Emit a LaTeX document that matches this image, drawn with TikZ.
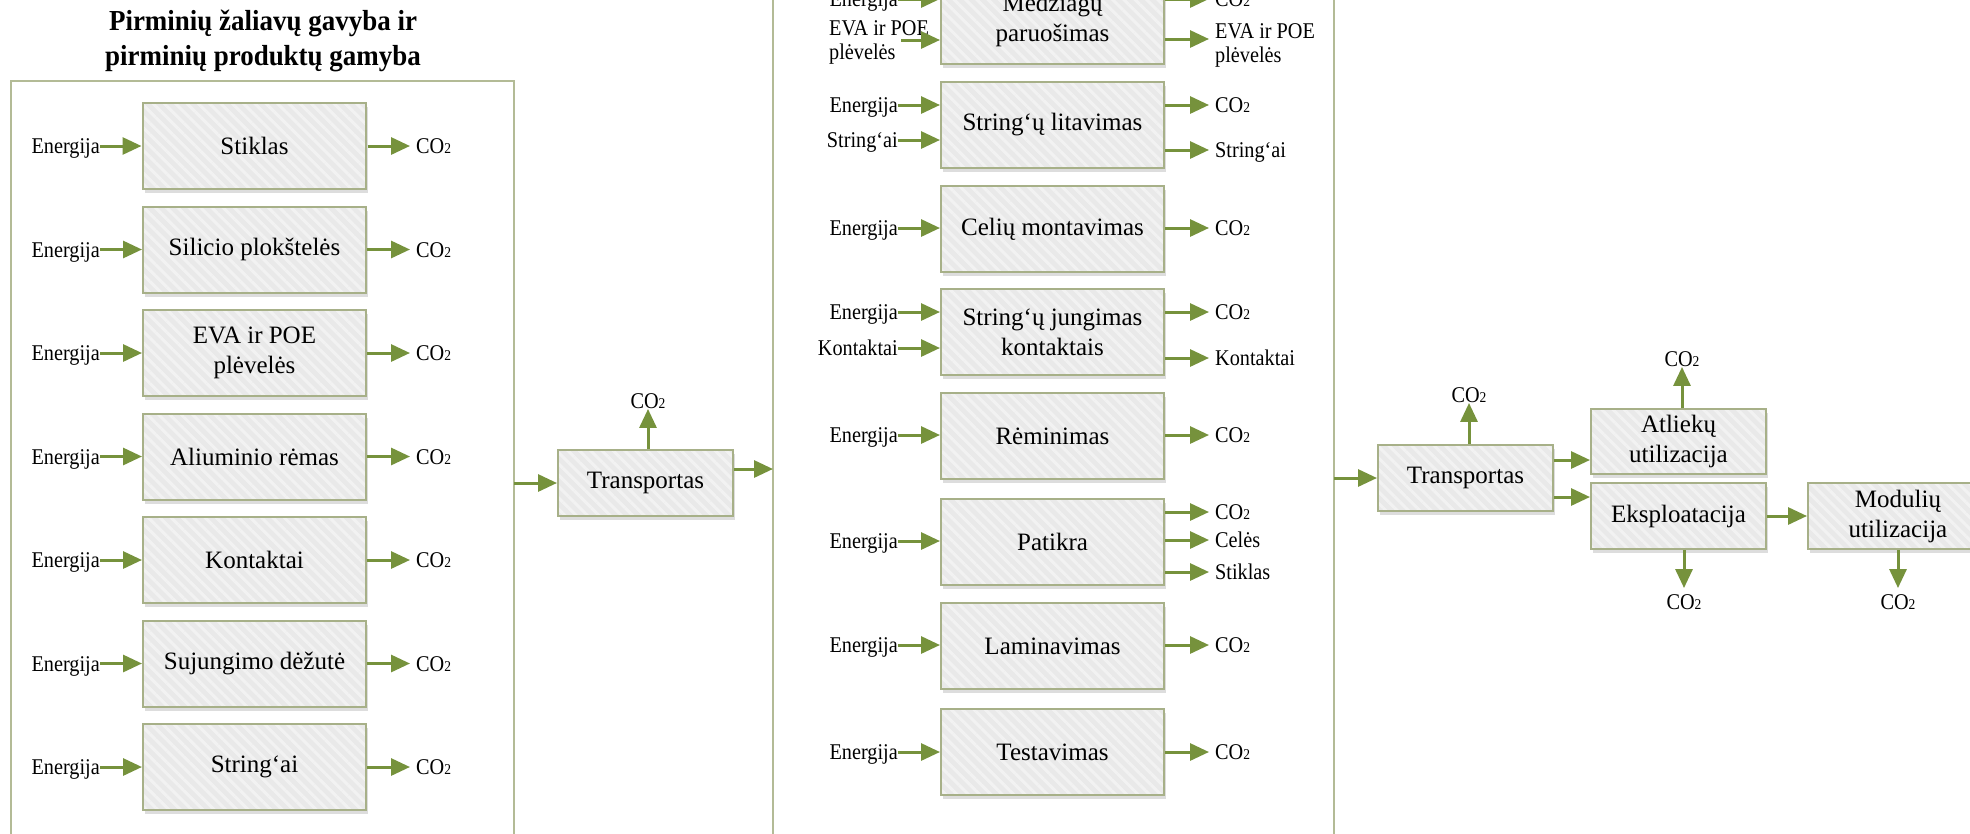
\documentclass[tikz,border=0pt]{standalone}
\usepackage{fontspec}
\setmainfont{Liberation Serif}
\newfontfamily\condfont{Liberation Serif}[FakeStretch=0.9]
\newfontfamily\titlefont{Liberation Serif Bold}[FakeStretch=0.93]
\usetikzlibrary{arrows.meta,shadows,patterns.meta}
\definecolor{arrowc}{HTML}{76923C}
\definecolor{framec}{HTML}{B3BB96}
\definecolor{boxborder}{HTML}{A7B088}
\definecolor{boxfill}{HTML}{E9E9E9}
\definecolor{stripec}{HTML}{F2F2F2}
\newcommand{\cotwo}{CO{\fontsize{15}{15}\selectfont 2}}
\newcommand{\myin}[4]{%
  \node[lblL] (#2) at (898,#3) {#4};
  \draw[arr] (#2.east) -- (#2.east -| #1.west);}
\newcommand{\myout}[4]{%
  \node[lblR] (#2) at (1209,#3) {#4};
  \draw[arr] (#2.west -| #1.east) -- (#2.west);}
\tikzset{
  procbox/.style={draw=boxborder, line width=2pt,
    drop shadow={shadow xshift=1.5pt, shadow yshift=-4pt, opacity=0.22, fill=black!60},
    preaction={fill=boxfill},
    pattern={Lines[angle=-45,distance=8pt,line width=3pt]}, pattern color=stripec,
    inner sep=0pt, align=center, font=\fontsize{25}{30}\selectfont, text=black},
  widebox/.style={procbox, minimum width=223pt, minimum height=86pt},
  smallbox/.style={procbox, minimum width=175pt, minimum height=66pt},
  arr/.style={draw=arrowc, line width=3pt, -{Triangle[length=19pt,width=17pt]}},
  lbl/.style={font=\condfont\fontsize{22.5}{24}\selectfont, inner sep=0pt, text=black, text height=15.5pt, text depth=0pt},
  lbltwo/.style={font=\condfont\fontsize{22.5}{24}\selectfont, inner sep=0pt, text=black, align=left, anchor=west},
  lblL/.style={lbl, anchor=east},
  lblR/.style={lbl, anchor=west, inner xsep=6pt},
  framebox/.style={draw=framec, line width=2pt},
}
\begin{document}
\begin{tikzpicture}[x=1pt,y=-1pt]
\useasboundingbox (0,0) rectangle (1970,833);
\fill[white] (0,0) rectangle (1970,833);
% frames
\draw[framebox] (11,900) -- (11,81) -- (514,81) -- (514,900);
\draw[framebox] (773,900) -- (773,-60) -- (1334,-60) -- (1334,900);
% title
\node[font=\titlefont\fontsize{29}{35}\selectfont, align=center, inner sep=0pt] (title) at (263,40.5) {Pirminių žaliavų gavyba ir\\pirminių produktų gamyba};
% left column
\foreach \t [count=\i from 0] in {Stiklas, Silicio plokštelės, {EVA ir POE\\plėvelės}, Aliuminio rėmas, Kontaktai, Sujungimo dėžutė, String‘ai}{
  \node[widebox] (L\i) at (254.5,{146+103.5*\i}) {\t};
  \node[lblL] (LE\i) at (100,{146+103.5*\i}) {Energija};
  \node[lblR] (LC\i) at (410,{146+103.5*\i}) {\cotwo};
  \draw[arr] (LE\i.east) -- (LE\i.east -| L\i.west);
  \draw[arr] (LC\i.west -| L\i.east) -- (LC\i.west);
}
% first transport
\node[smallbox] (T1) at (645.5,483) {Transportas};
\coordinate (F1) at (514,483);
\draw[arr] (F1) -- (T1.west);
\coordinate (F2) at (773,469);
\draw[arr] (F2 -| T1.east) -- (F2);
\node[lbl] (T1c) at (648,401) {\cotwo};
\draw[arr] (T1c |- T1.north) -- (T1c.south);
% middle column
\node[widebox] (M0) at (1052.5,20.5) {Medžiagų\\paruošimas};
\node[widebox] (M1) at (1052.5,125) {String‘ų litavimas};
\node[widebox] (M2) at (1052.5,229) {Celių montavimas};
\node[widebox] (M3) at (1052.5,332) {String‘ų jungimas\\kontaktais};
\node[widebox] (M4) at (1052.5,436) {Rėminimas};
\node[widebox] (M5) at (1052.5,542) {Patikra};
\node[widebox] (M6) at (1052.5,646) {Laminavimas};
\node[widebox] (M7) at (1052.5,752) {Testavimas};
% inputs
\myin{M0}{M0e}{-1}{Energija}
\node[lbltwo] (M0v) at (829,42) {EVA ir POE\\plėvelės};
\coordinate (M0vs) at (901,40);
\draw[arr] (M0vs) -- (M0vs -| M0.west);
\myin{M1}{M1e}{105}{Energija}
\myin{M1}{M1s}{140}{String‘ai}
\myin{M2}{M2e}{228}{Energija}
\myin{M3}{M3e}{312}{Energija}
\myin{M3}{M3k}{348}{Kontaktai}
\myin{M4}{M4e}{435}{Energija}
\myin{M5}{M5e}{541}{Energija}
\myin{M6}{M6e}{645}{Energija}
\myin{M7}{M7e}{752}{Energija}
% outputs
\myout{M0}{M0c}{-1}{\cotwo}
\node[lbltwo] (M0w) at (1215,45) {EVA ir POE\\plėvelės};
\coordinate (M0ws) at (1209,39);
\draw[arr] (M0ws -| M0.east) -- (M0ws);
\myout{M1}{M1c}{105}{\cotwo}
\myout{M1}{M1o}{150}{String‘ai}
\myout{M2}{M2c}{228}{\cotwo}
\myout{M3}{M3c}{312}{\cotwo}
\myout{M3}{M3o}{358}{Kontaktai}
\myout{M4}{M4c}{435}{\cotwo}
\myout{M5}{M5c}{512}{\cotwo}
\myout{M5}{M5o}{540}{Celės}
\myout{M5}{M5p}{572}{Stiklas}
\myout{M6}{M6c}{645}{\cotwo}
\myout{M7}{M7c}{752}{\cotwo}
% right part
\node[smallbox] (T2) at (1465.5,478) {Transportas};
\coordinate (F3) at (1334,478);
\draw[arr] (F3) -- (T2.west);
\node[lbl] (T2c) at (1469,395) {\cotwo};
\draw[arr] (T2c |- T2.north) -- (T2c.south);
\node[smallbox, minimum height=65pt] (A) at (1678.5,441.5) {Atliekų\\utilizacija};
\node[smallbox] (E) at (1678.5,516) {Eksploatacija};
\node[smallbox, minimum width=180pt] (Mu) at (1898,516) {Modulių\\utilizacija};
\coordinate (ya) at (0,460);
\coordinate (yb) at (0,497);
\draw[arr] (T2.east |- ya) -- (A.west |- ya);
\draw[arr] (T2.east |- yb) -- (E.west |- yb);
\draw[arr] (E.east) -- (Mu.west);
\node[lbl] (Ac) at (1682,359) {\cotwo};
\draw[arr] (Ac |- A.north) -- (Ac.south);
\node[lbl] (Ec) at (1684,602) {\cotwo};
\draw[arr, shorten >=6pt] (Ec |- E.south) -- (Ec.north);
\node[lbl] (Mc) at (1898,602) {\cotwo};
\draw[arr, shorten >=6pt] (Mc |- Mu.south) -- (Mc.north);
\end{tikzpicture}
\end{document}
